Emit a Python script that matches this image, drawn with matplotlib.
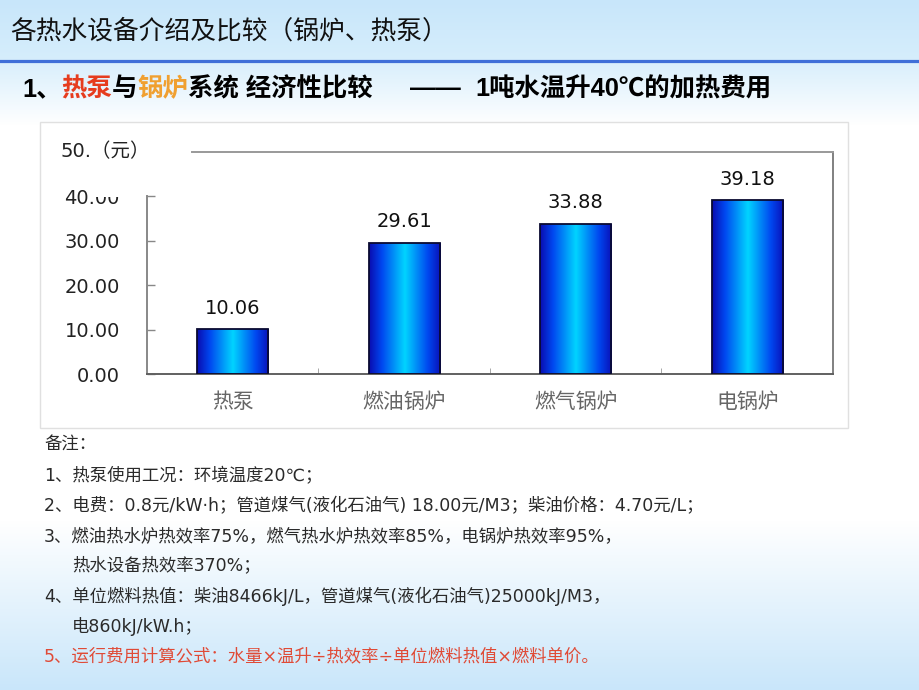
import numpy as np
import matplotlib
matplotlib.use('Agg')
import matplotlib.pyplot as plt
from matplotlib.patches import Rectangle
from matplotlib.colors import LinearSegmentedColormap
from matplotlib.lines import Line2D

# ---------------- data ----------------
categories = ['热泵', '燃油锅炉', '燃气锅炉', '电锅炉']
costs = [10.06, 29.61, 33.88, 39.18]
yticks = [0, 10, 20, 30, 40]
ytick_labels = ['0.00', '10.00', '20.00', '30.00', '40.00']
unit_label = '50.（元）'
title = '各热水设备介绍及比较（锅炉、热泵）'
subtitle_parts = [('1、', 'black'), ('热泵', '#e63c1e'), ('与', 'black'),
                  ('锅炉', '#f0a030'), ('系统 经济性比较', 'black')]
subtitle_dash = '——'
subtitle_tail = '1吨水温升40℃的加热费用'
notes = ['备注：',
         '1、热泵使用工况：环境温度20℃；',
         '2、电费：0.8元/kW·h；管道煤气(液化石油气) 18.00元/M3；柴油价格：4.70元/L；',
         '3、燃油热水炉热效率75%，燃气热水炉热效率85%，电锅炉热效率95%，',
         '热水设备热效率370%；',
         '4、单位燃料热值：柴油8466kJ/L，管道煤气(液化石油气)25000kJ/M3，',
         '电860kJ/kW.h；',
         '5、运行费用计算公式：水量×温升÷热效率÷单位燃料热值×燃料单价。']
notes_indent = [False, False, False, False, True, False, True, False]
notes_red = [False, False, False, False, False, False, False, True]

plt.rcParams['font.family'] = ['DejaVu Sans', 'Noto Sans CJK SC']

W, H = 920, 690
fig = plt.figure(figsize=(W / 100, H / 100), dpi=100)


def fx(px):
    return px / W


def fy(py):
    return 1 - py / H


# ---------------- background ----------------
bg_ax = fig.add_axes([0, 0, 1, 1], zorder=-10)
ys = np.arange(H)
keys_y = [0, 60, 63, 125, 520, 690]
top_c = np.array([0xc8, 0xe6, 0xfa]) / 255
mid_c = np.array([0xd6, 0xee, 0xfc]) / 255
sub_c = np.array([0xda, 0xef, 0xfc]) / 255
white = np.array([1.0, 1.0, 1.0])
bot_c = np.array([0xc9, 0xe6, 0xfa]) / 255
key_cols = [top_c, mid_c, sub_c, white, white, bot_c]
grad = np.zeros((H, 1, 3))
for ch in range(3):
    grad[:, 0, ch] = np.interp(ys, keys_y, [c[ch] for c in key_cols])
bg_ax.imshow(grad, aspect='auto', extent=[0, 1, 0, 1])
bg_ax.axis('off')

# separator line
fig.add_artist(Line2D([0, 1], [fy(61), fy(61)], transform=fig.transFigure,
                      color='#3f6fd8', lw=2.3, zorder=-4))

# chart panel
fig.add_artist(Rectangle((fx(40), fy(428)), fx(808), 306 / H,
                         transform=fig.transFigure, facecolor='white',
                         edgecolor='#e0e0e0', lw=1, zorder=-5))

# ---------------- chart ----------------
ax = fig.add_axes([fx(147), fy(374), fx(686), 222 / H], zorder=0)
ax.set_facecolor('none')
x = np.arange(len(categories))
bw = 0.414
bars = ax.bar(x, costs, bw, color='none', edgecolor='#0a0a30', lw=1.3, zorder=3)
cmap = LinearSegmentedColormap.from_list(
    'barg', [(0.0, '#0a0cb0'), (0.18, '#0048f0'), (0.5, '#00d4ff'),
             (0.82, '#0048f0'), (1.0, '#0a10b8')])
gvals = np.linspace(0, 1, 256).reshape(1, -1)
for b in bars:
    x0 = b.get_x()
    im = ax.imshow(gvals, extent=[x0, x0 + b.get_width(), 0, b.get_height()],
                   aspect='auto', cmap=cmap, zorder=2)
    im.set_clip_path(b)

for xi, v in zip(x, costs):
    ax.annotate(f'{v:.2f}', xy=(xi, v), xytext=(0, 15), textcoords='offset points',
                ha='center', va='center', fontsize=14, color='#111111',
                family='DejaVu Sans')

ax.set_xlim(-0.5, 3.5)
ax.set_ylim(0, 50)
ax.set_yticks(yticks)
ax.set_yticklabels(ytick_labels)
ax.tick_params(axis='y', direction='in', length=5.5, width=1, color='#888888',
               pad=19.5, labelsize=14, labelcolor='#222222')
ax.set_xticks(x)
ax.set_xticklabels(categories, family='Noto Sans CJK SC', fontsize=15, color='#666666')
ax.tick_params(axis='x', which='major', length=0, pad=12)
ax.set_xticks([0.5, 1.5, 2.5], minor=True)
ax.tick_params(axis='x', which='minor', direction='in', length=4, color='#999999')

ax.spines['left'].set_bounds(0, 40)
ax.spines['top'].set_bounds(-0.238, 3.5)
for s, c in [('left', '#888888'), ('top', '#999999'), ('right', '#808080'),
             ('bottom', '#606060')]:
    ax.spines[s].set_color(c)
    ax.spines[s].set_linewidth(1.4)

# cover the top of the 40.00 label as in the source image
fig.add_artist(Rectangle((fx(96), fy(197)), fx(50), 13 / H,
                         transform=fig.transFigure, facecolor='white',
                         edgecolor='none', zorder=1))
fig.text(fx(61), fy(152), unit_label, fontsize=14, color='#222222',
         va='center', ha='left', zorder=3)

# ---------------- titles ----------------
fig.text(fx(10), fy(32), title, fontsize=18.5, color='#111111',
         family='Noto Sans CJK SC', va='center', ha='left')

renderer = fig.canvas.get_renderer()
cx = 22
for s, c in subtitle_parts:
    t = fig.text(fx(cx), fy(89), s, color=c, fontsize=18.3, fontweight='bold',
                 va='center', ha='left', family=['Liberation Sans', 'Noto Sans CJK SC'])
    cx = t.get_window_extent(renderer).x1
fig.text(fx(410), fy(89), subtitle_dash, color='black', fontsize=18.3, fontweight='bold',
         va='center', ha='left', family=['Liberation Sans', 'Noto Sans CJK SC'])
fig.text(fx(475), fy(89), subtitle_tail, color='black', fontsize=18.3, fontweight='bold',
         va='center', ha='left', family=['Liberation Sans', 'Noto Sans CJK SC'])

# ---------------- notes ----------------
note_y = [445, 476, 506, 536, 565, 596, 626, 656]
for txt, yy, ind, red in zip(notes, note_y, notes_indent, notes_red):
    fig.text(fx(72 if ind else 44), fy(yy), txt, fontsize=12.5,
             color='#e04a36' if red else '#2a2a2a', va='center', ha='left',
             family=['DejaVu Sans', 'Noto Sans CJK SC'])

fig.savefig('out.png', dpi=100)
